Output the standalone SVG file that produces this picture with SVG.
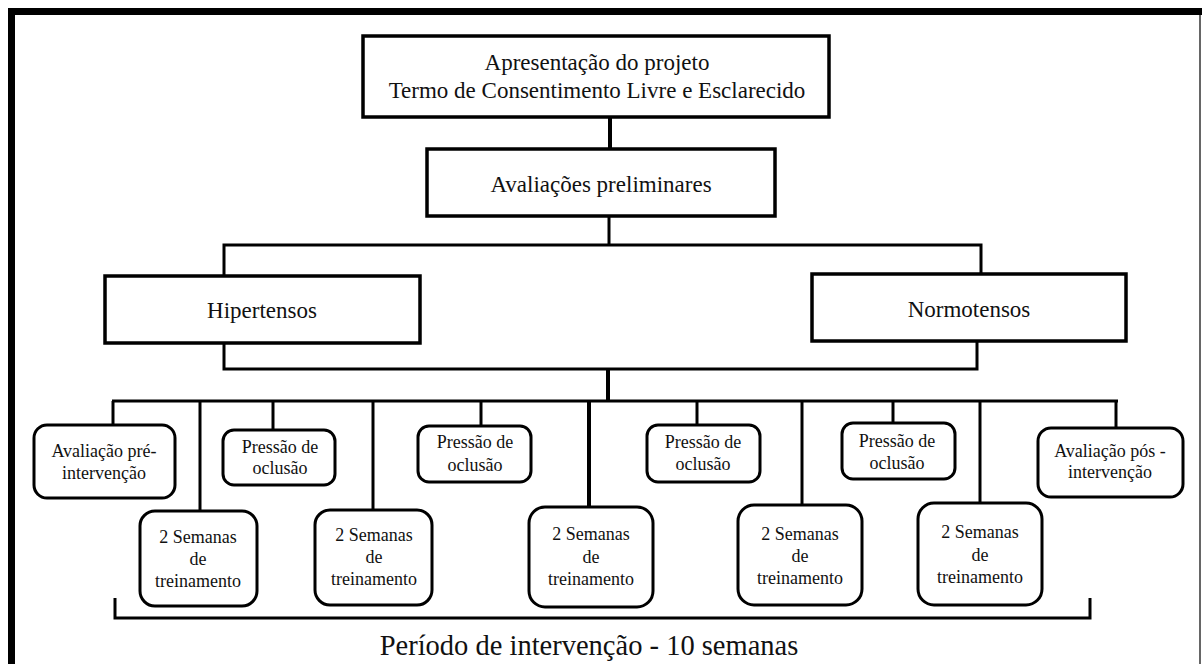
<svg xmlns="http://www.w3.org/2000/svg" width="1202" height="664" viewBox="0 0 1202 664">
<style>
.box{fill:#fff;stroke:#000;stroke-width:3.5}
.rbox{fill:#fff;stroke:#000;stroke-width:3}
.t{font-family:"Liberation Serif","Times New Roman",serif;fill:#111;text-anchor:middle}
.big{font-size:23px}
.sm{font-size:18px}
.c{fill:none;stroke:#000;stroke-width:3;stroke-linejoin:miter}
</style>
<rect x="0" y="0" width="1202" height="664" fill="#fff"/>
<g id="frame">
<rect x="8" y="8" width="1194" height="7" fill="#000"/>
<rect x="8" y="8" width="7" height="656" fill="#000"/>
<line x1="1200" y1="15" x2="1200" y2="664" stroke="#333" stroke-width="1.5"/>
</g>
<g id="connectors">
<line class="c" x1="610" y1="117" x2="610" y2="149" style="stroke-width:4"/>
<line class="c" x1="609" y1="217" x2="609" y2="245"/>
<polyline class="c" points="224,275 224,245 981,245 981,273"/>
<polyline class="c" points="224,343 224,369 977,369 977,341"/>
<line class="c" x1="608" y1="369" x2="608" y2="401" style="stroke-width:4"/>
<line class="c" x1="112" y1="401" x2="1118" y2="401"/>
<line class="c" x1="113" y1="401" x2="113" y2="425"/>
<line class="c" x1="200" y1="401" x2="200" y2="511"/>
<line class="c" x1="273" y1="401" x2="273" y2="430"/>
<line class="c" x1="373" y1="401" x2="373" y2="510"/>
<line class="c" x1="481" y1="401" x2="481" y2="426"/>
<line class="c" x1="589" y1="401" x2="589" y2="507" style="stroke-width:4"/>
<line class="c" x1="697" y1="401" x2="697" y2="425"/>
<line class="c" x1="802" y1="401" x2="802" y2="505"/>
<line class="c" x1="893" y1="401" x2="893" y2="423"/>
<line class="c" x1="980" y1="401" x2="980" y2="503"/>
<line class="c" x1="1116" y1="401" x2="1116" y2="428"/>
</g>
<g id="n-apresentacao">
<rect class="box" x="363" y="36" width="466" height="81"/>
<text class="t big" x="597" y="70">Apresentação do projeto</text>
<text class="t big" x="597" y="98">Termo de Consentimento Livre e Esclarecido</text>
</g>
<g id="n-avaliacoes">
<rect class="box" x="427" y="149" width="348" height="67"/>
<text class="t big" x="601" y="192">Avaliações preliminares</text>
</g>
<g id="n-hipertensos">
<rect class="box" x="105" y="276" width="315" height="67"/>
<text class="t big" x="262" y="318">Hipertensos</text>
</g>
<g id="n-normotensos">
<rect class="box" x="812" y="274" width="314" height="67"/>
<text class="t big" x="969" y="317">Normotensos</text>
</g>
<g id="n-pre">
<rect class="rbox" x="34" y="425" width="141" height="73" rx="13"/>
<text class="t sm" x="104" y="457">Avaliação pré-</text>
<text class="t sm" x="104" y="479">intervenção</text>
</g>
<g id="n-sem1">
<rect class="rbox" x="140" y="511" width="117" height="95" rx="15"/>
<text class="t sm" x="198" y="543">2 Semanas</text>
<text class="t sm" x="198" y="565">de</text>
<text class="t sm" x="198" y="587">treinamento</text>
</g>
<g id="n-p1">
<rect class="rbox" x="223" y="430" width="112" height="55" rx="11"/>
<text class="t sm" x="280" y="453">Pressão de</text>
<text class="t sm" x="280" y="474">oclusão</text>
</g>
<g id="n-sem2">
<rect class="rbox" x="315" y="510" width="117" height="95" rx="15"/>
<text class="t sm" x="374" y="541">2 Semanas</text>
<text class="t sm" x="374" y="563">de</text>
<text class="t sm" x="374" y="585">treinamento</text>
</g>
<g id="n-p2">
<rect class="rbox" x="418" y="426" width="113" height="56" rx="11"/>
<text class="t sm" x="475" y="448">Pressão de</text>
<text class="t sm" x="475" y="471">oclusão</text>
</g>
<g id="n-sem3">
<rect class="rbox" x="529" y="507" width="124" height="100" rx="16"/>
<text class="t sm" x="591" y="540">2 Semanas</text>
<text class="t sm" x="591" y="563">de</text>
<text class="t sm" x="591" y="585">treinamento</text>
</g>
<g id="n-p3">
<rect class="rbox" x="647" y="425" width="113" height="57" rx="11"/>
<text class="t sm" x="703" y="448">Pressão de</text>
<text class="t sm" x="703" y="470">oclusão</text>
</g>
<g id="n-sem4">
<rect class="rbox" x="738" y="505" width="124" height="100" rx="16"/>
<text class="t sm" x="800" y="540">2 Semanas</text>
<text class="t sm" x="800" y="562">de</text>
<text class="t sm" x="800" y="584">treinamento</text>
</g>
<g id="n-p4">
<rect class="rbox" x="842" y="423" width="113" height="56" rx="11"/>
<text class="t sm" x="897" y="447">Pressão de</text>
<text class="t sm" x="897" y="469">oclusão</text>
</g>
<g id="n-sem5">
<rect class="rbox" x="918" y="503" width="124" height="102" rx="16"/>
<text class="t sm" x="980" y="538">2 Semanas</text>
<text class="t sm" x="980" y="561">de</text>
<text class="t sm" x="980" y="583">treinamento</text>
</g>
<g id="n-pos">
<rect class="rbox" x="1038" y="428" width="145" height="69" rx="13"/>
<text class="t sm" x="1110" y="457">Avaliação pós -</text>
<text class="t sm" x="1110" y="478">intervenção</text>
</g>
<g id="bracket">
<polyline class="c" points="115,598 115,618 1090,618 1090,598"/>
<text class="t" x="589" y="655" style="font-size:28.5px">Período de intervenção - 10 semanas</text>
</g>
</svg>
